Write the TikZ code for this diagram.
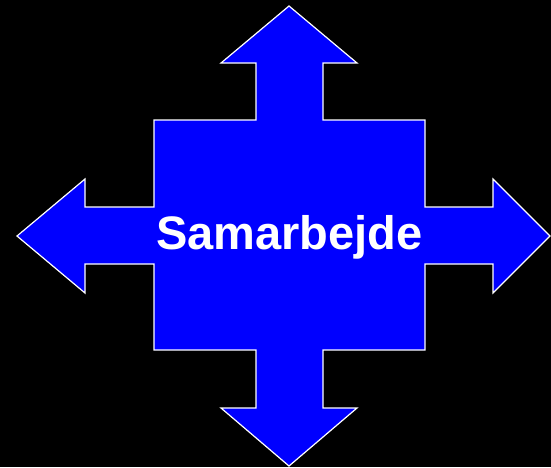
\documentclass[tikz,border=0pt]{standalone}
\usepackage{fontspec}
\setmainfont{Liberation Sans}
\begin{document}
\begin{tikzpicture}[x=1pt,y=-1pt,
  shapestyle/.style={fill={rgb,255:red,0;green,0;blue,255},draw=white,line width=1.2pt,line join=miter},
  labelstyle/.style={text=white,font=\fontsize{47}{50}\selectfont\bfseries,inner sep=0pt}]
\fill[black] (0,0) rectangle (551,467);
\useasboundingbox (0,0) rectangle (551,467);
\draw[shapestyle] (289,6) -- (357,63) -- (323,63) -- (323,120) -- (425,120) -- (425,207)
  -- (493,207) -- (493,179) -- (550,236) -- (493,293) -- (493,264) -- (425,264)
  -- (425,350) -- (323,350) -- (323,408) -- (357,408) -- (289,466) -- (221,408)
  -- (256,408) -- (256,350) -- (154,350) -- (154,264) -- (85,264) -- (85,293)
  -- (17,236) -- (85,179) -- (85,207) -- (154,207) -- (154,120) -- (256,120)
  -- (256,63) -- (221,63) -- cycle;
\node[labelstyle,anchor=base] (lbl) at (289.5,249) {Samarbejde};
\end{tikzpicture}
\end{document}
